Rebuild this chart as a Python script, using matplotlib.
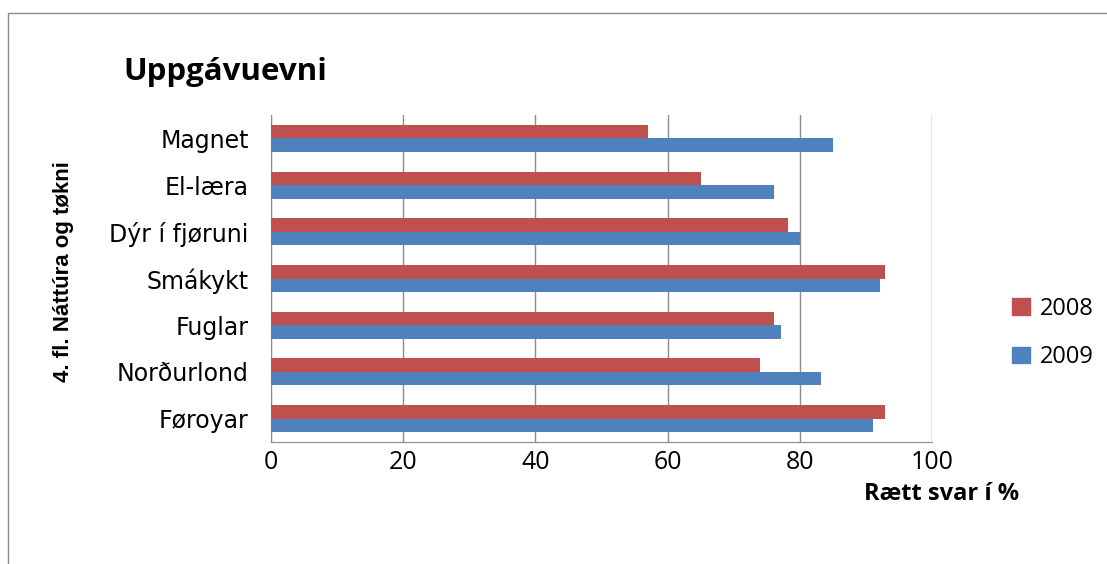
import matplotlib.pyplot as plt
import matplotlib.patches as mpatches
import numpy as np

# data
categories = ["Magnet", "El-læra", "Dýr í fjøruni", "Smákykt", "Fuglar", "Norðurlond", "Føroyar"]
v2008 = [57.0, 65.1, 78.2, 92.9, 76.1, 74.0, 92.9]
v2009 = [85.0, 76.1, 80.0, 92.1, 77.2, 83.2, 91.1]
xticks = [0, 20, 40, 60, 80, 100]

red = "#C0504D"
blue = "#4F81BD"
W, H = 1107, 564

fig = plt.figure(figsize=(W / 100, H / 100), dpi=100)
ax = fig.add_axes([271 / W, 1 - 442 / H, (932 - 271) / W, (442 - 115) / H])

y = np.arange(len(categories))
h = 0.29
ax.barh(y - h / 2, v2008, height=h, color=red, label="2008", zorder=3)
ax.barh(y + h / 2, v2009, height=h, color=blue, label="2009", zorder=3)

ax.set_ylim(len(categories) - 0.5, -0.5)
ax.set_xlim(0, 100)
ax.set_yticks(y)
ax.set_yticklabels(categories, fontsize=17, family="DejaVu Sans")
ax.set_xticks(xticks)
ax.set_xticklabels([str(t) for t in xticks], fontsize=18, family="Open Sans")
ax.tick_params(axis="y", length=0, pad=16)
ax.tick_params(axis="x", length=0, pad=6)
ax.grid(axis="x", color="#8c8c8c", linewidth=1, zorder=0)

for s in ["top", "right"]:
    ax.spines[s].set_visible(False)
ax.spines["left"].set_color("#8c8c8c")
ax.spines["bottom"].set_color("#8c8c8c")

fig.text(123 / W, 1 - 72 / H, "Uppgávuevni", fontsize=22.5, fontweight="bold",
         family="Open Sans", va="center", ha="left")
fig.text(63 / W, 1 - 272 / H, "4. fl. Náttúra og tøkni", fontsize=16, fontweight="bold",
         family="Liberation Sans", rotation=90, va="center", ha="center")
fig.text(942 / W, 1 - 494 / H, "Rætt svar í %", fontsize=17, fontweight="bold",
         family="Open Sans", va="center", ha="center")

handles = [mpatches.Patch(color=red, label="2008"), mpatches.Patch(color=blue, label="2009")]
fig.legend(handles=handles, loc="center left", bbox_to_anchor=(1012 / W, 1 - 333 / H),
           frameon=False, prop={"family": "Open Sans", "size": 17}, borderpad=0, borderaxespad=0,
           handlelength=0.75, handleheight=0.7, labelspacing=1.05, handletextpad=0.45)

border = mpatches.Rectangle((8 / W, -0.1), 1.2, 1 - 13 / H + 0.1, transform=fig.transFigure,
                            fill=False, edgecolor="#8c8c8c", linewidth=1)
fig.patches.append(border)

fig.savefig("out.png", dpi=100)
